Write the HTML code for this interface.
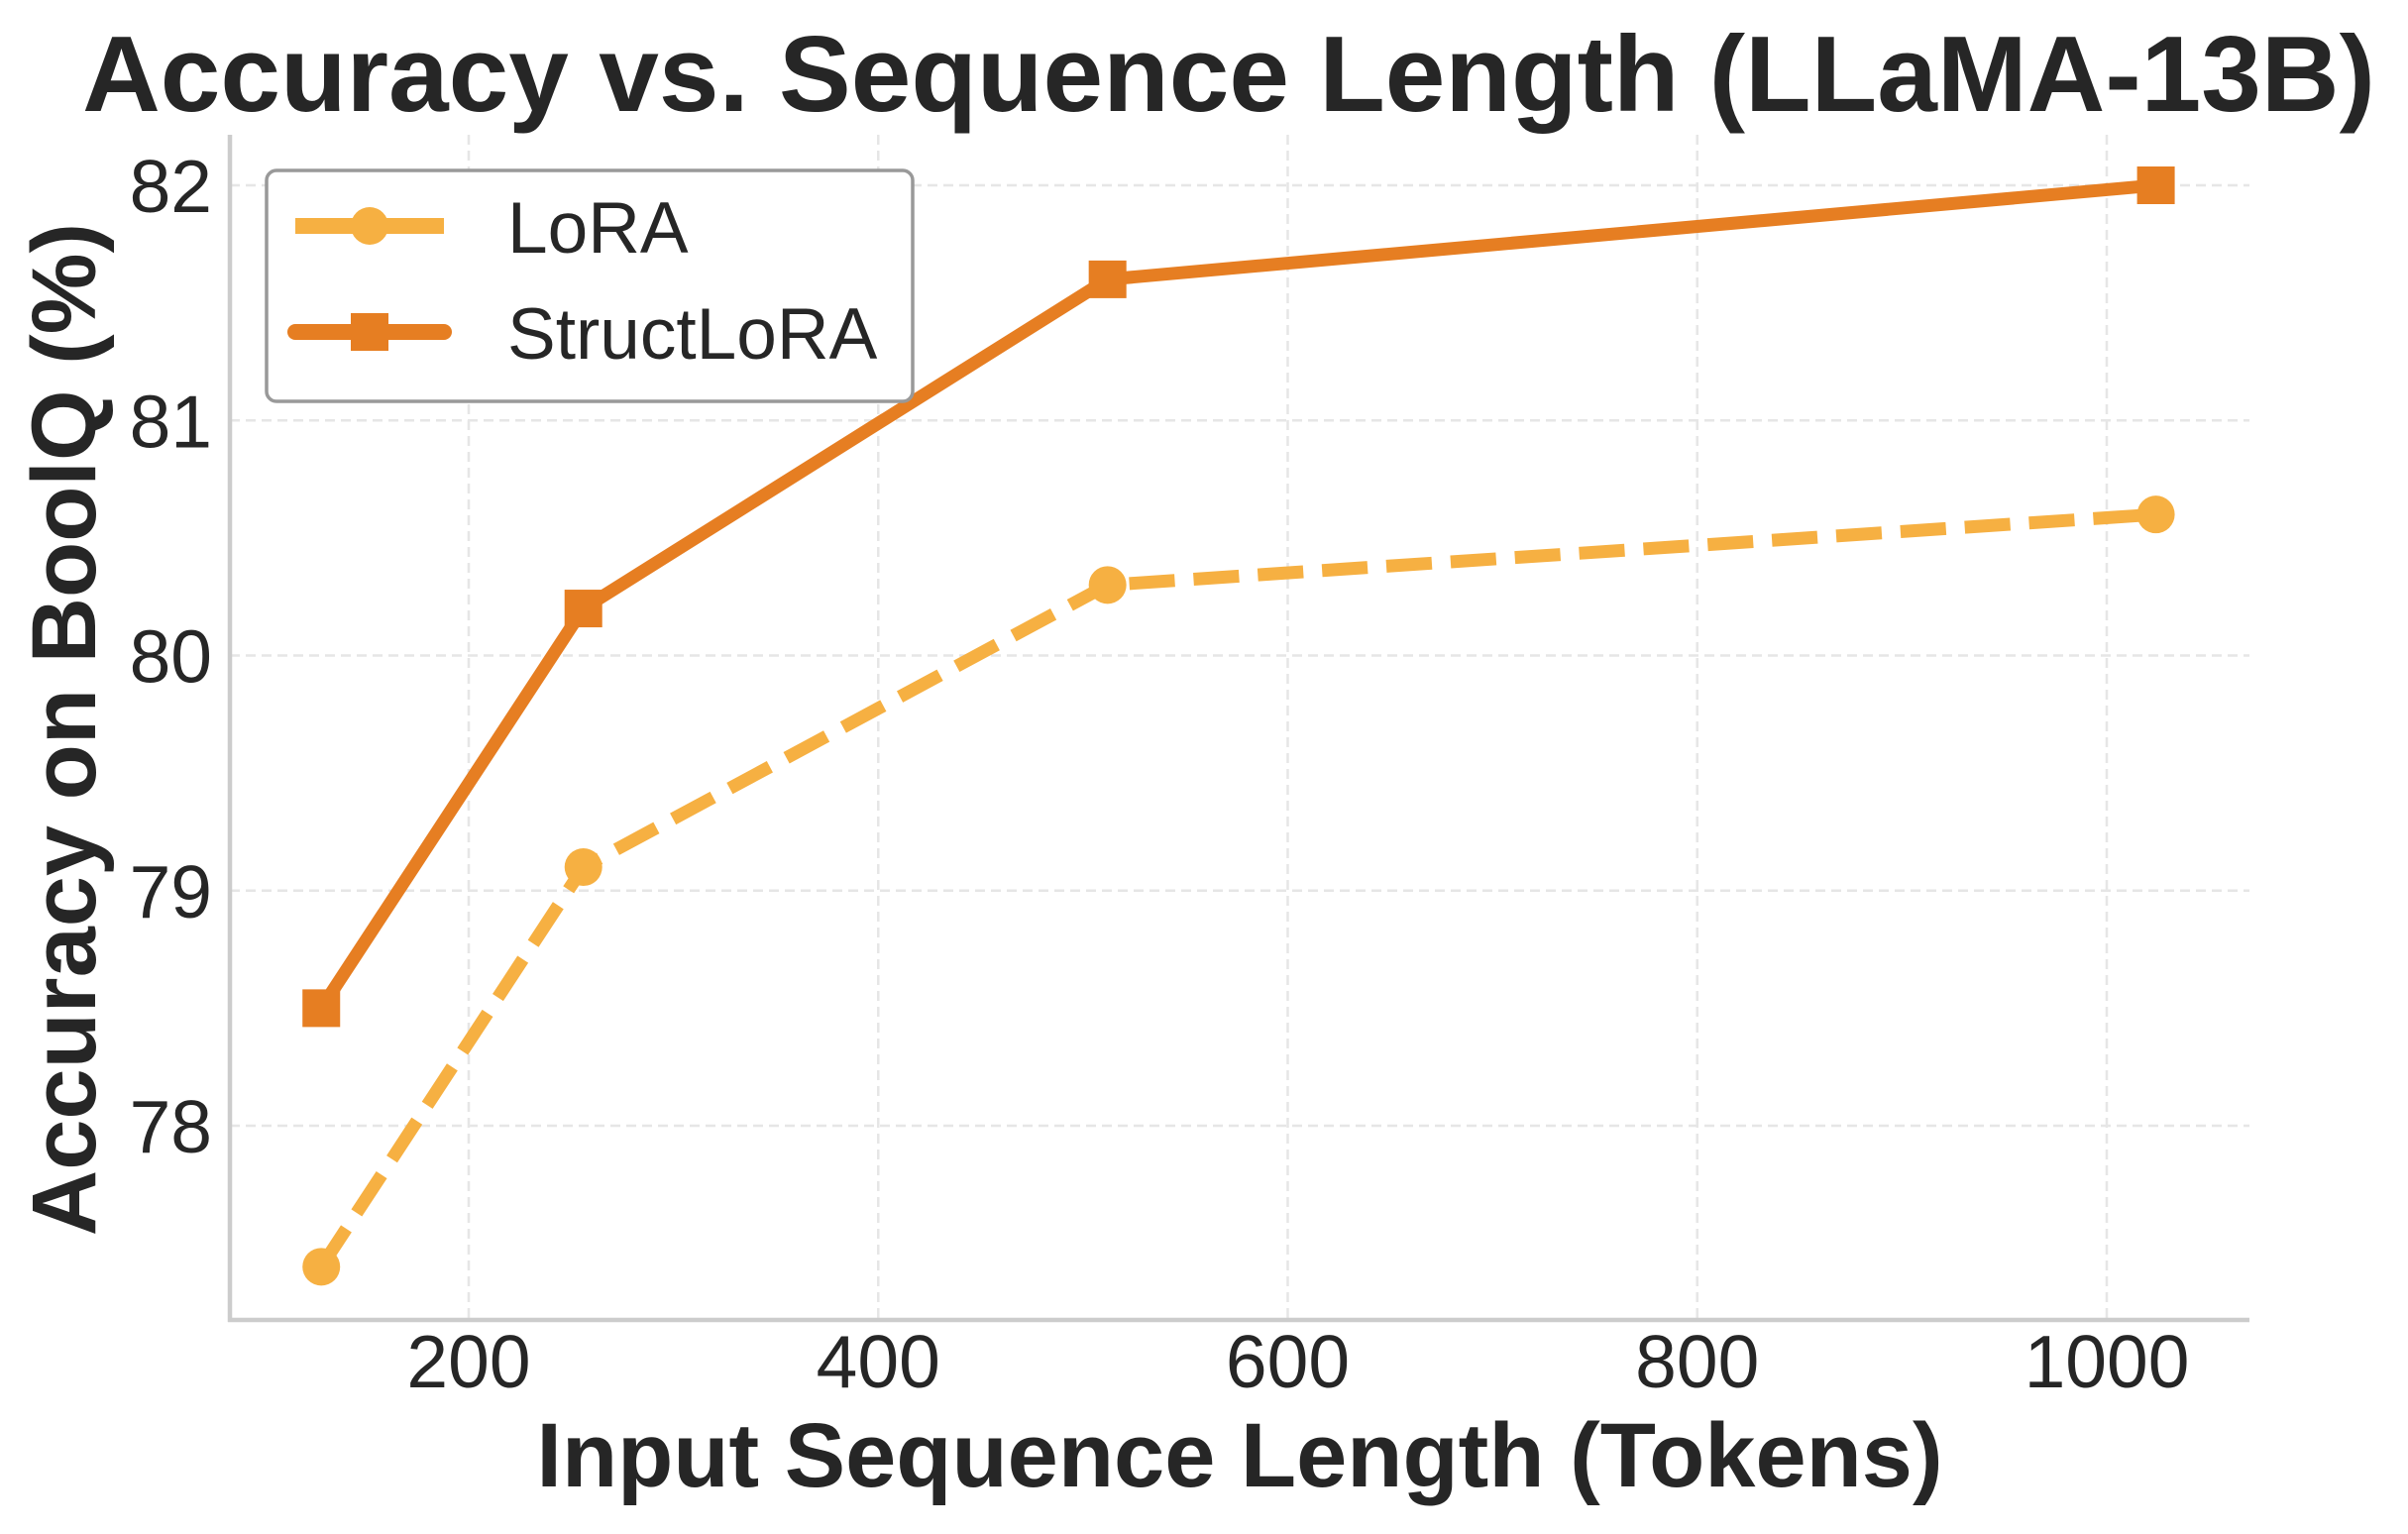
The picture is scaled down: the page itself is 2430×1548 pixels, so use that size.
<!DOCTYPE html>
<html><head><meta charset="utf-8"><style>body{margin:0;background:#fff}svg{display:block}text{font-family:"Liberation Sans",Arial,sans-serif;fill:#262626}</style></head>
<body>
<svg id="chart" width="2430" height="1548" viewBox="0 0 2430 1548" xmlns="http://www.w3.org/2000/svg">
<text x="1240" y="112" font-size="109" font-weight="bold" text-anchor="middle">Accuracy vs. Sequence Length (LLaMA-13B)</text>
<g id="grid"></g>
<g id="axes"></g>
<g id="series"></g>
<text x="1251" y="1500" font-size="92" font-weight="bold" text-anchor="middle">Input Sequence Length (Tokens)</text>
<text transform="translate(96,736) rotate(-90)" font-size="92" font-weight="bold" text-anchor="middle">Accuracy on BoolQ (%)</text>
<g>
<rect x="269" y="172" width="652" height="233" rx="10" fill="#fff" stroke="#999" stroke-width="3.5"/>
<g>
<line x1="298" y1="228" x2="448" y2="228" stroke="#F6B042" stroke-width="16"/>
<circle cx="373" cy="228" r="19" fill="#F6B042"/>
<text x="512" y="255" font-size="73">LoRA</text></g>
<g>
<line x1="298" y1="335" x2="448" y2="335" stroke="#E67E22" stroke-width="16" stroke-linecap="round"/>
<rect x="354" y="316" width="38" height="38" fill="#E67E22"/>
<text x="512" y="362" font-size="73">StructLoRA</text></g>
</g>
</svg>
<script>
const xValues=[128,256,512,1024];
const loraValues=[77.4,79.1,80.3,80.6];
const structValues=[78.5,80.2,81.6,82.0];
const xTicks=[200,400,600,800,1000];
const yTicks=[78,79,80,81,82];
const NS="http://www.w3.org/2000/svg";
const L=232,R=2270,T=136,B=1332;
function sx(v){return 473+(v-200)*(2126-473)/800;}
function sy(v){return 1136-(v-78)*(1136-187)/4;}
function mk(tag,attrs,parent){const e=document.createElementNS(NS,tag);for(const k in attrs)e.setAttribute(k,attrs[k]);document.getElementById(parent).appendChild(e);return e;}
xTicks.forEach(t=>{
const g=mk('line',{x1:sx(t),x2:sx(t),y1:T,y2:B,stroke:'#e6e6e6','stroke-width':2.5,'stroke-dasharray':'10 6'},'grid');


const tx=mk('text',{x:sx(t),y:1400,'font-size':75,'text-anchor':'middle'},'axes');tx.textContent=t;


});
yTicks.forEach(t=>{
const g=mk('line',{x1:L,x2:R,y1:sy(t),y2:sy(t),stroke:'#e6e6e6','stroke-width':2.5,'stroke-dasharray':'10 6'},'grid');


const tx=mk('text',{x:214,y:sy(t)+27,'font-size':75,'text-anchor':'end'},'axes');tx.textContent=t;


});
const sl=mk('line',{x1:L,x2:L,y1:T,y2:B+2,stroke:'#cccccc','stroke-width':4.5},'axes');


const sb=mk('line',{x1:L-2,x2:R,y1:B,y2:B,stroke:'#cccccc','stroke-width':4.5},'axes');


function pts(vals){return xValues.map((x,i)=>sx(x)+','+sy(vals[i])).join(' ');}
const lp=mk('polyline',{points:pts(loraValues),fill:'none',stroke:'#F6B042','stroke-width':13,'stroke-dasharray':'46 19'},'series');


const spl=mk('polyline',{points:pts(structValues),fill:'none',stroke:'#E67E22','stroke-width':13,'stroke-linejoin':'round'},'series');


xValues.forEach((x,i)=>{
const c=mk('circle',{cx:sx(x),cy:sy(loraValues[i]),r:19,fill:'#F6B042'},'series');


const r=mk('rect',{x:sx(x)-19,y:sy(structValues[i])-19,width:38,height:38,fill:'#E67E22'},'series');


});
</script>
</body></html>
